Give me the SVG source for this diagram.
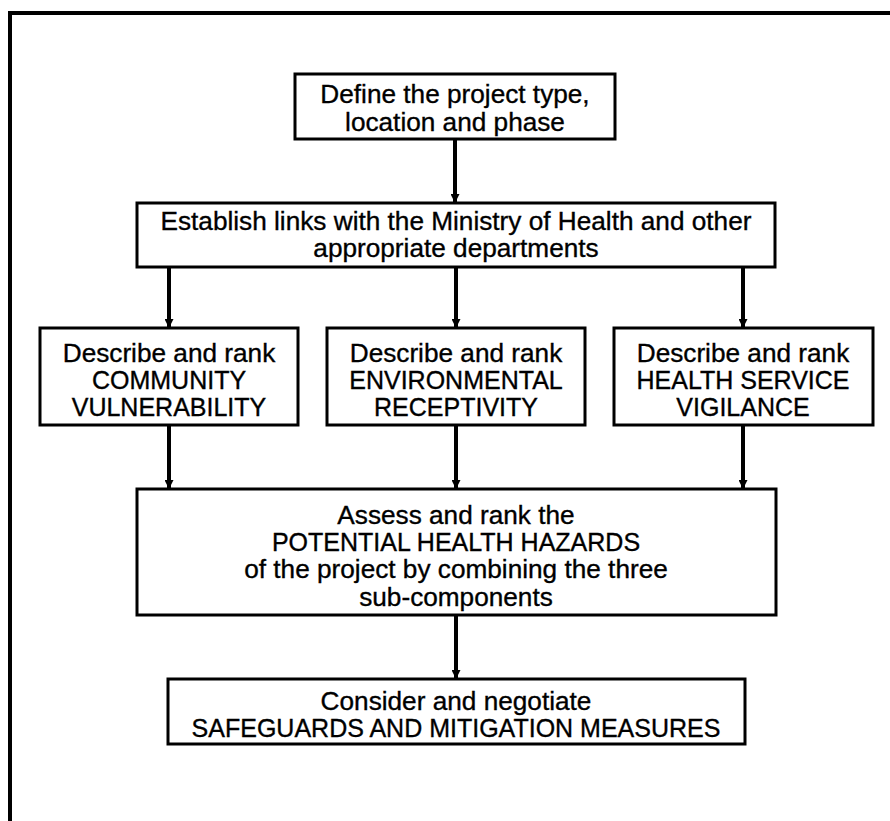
<svg xmlns="http://www.w3.org/2000/svg" width="890" height="821" viewBox="0 0 890 821">
  <style>
    .box { fill: #ffffff; stroke: #000000; stroke-width: 3; }
    .frame { fill: none; stroke: #000000; stroke-width: 4; }
    .link { fill: none; stroke: #000000; stroke-width: 4; }
    .label { font-family: "Liberation Sans", Arial, Helvetica, sans-serif; font-size: 25px; fill: #000000; stroke: #000000; stroke-width: 0.35; text-anchor: middle; }
    .lc { font-size: 26.2px; }
  </style>
  <defs>
    <marker id="arrow" viewBox="0 0 10 10" refX="10" refY="5" markerWidth="10" markerHeight="9" markerUnits="userSpaceOnUse" orient="auto">
      <path d="M0,0 L10,5 L0,10 Z" fill="#000000"/>
    </marker>
  </defs>

  <rect width="890" height="821" fill="#ffffff"/>

  <!-- page frame: top and left edges -->
  <path class="frame" d="M10,821 L10,13 L890,13"/>

  <!-- connectors -->
  <g id="connectors">
    <line class="link" x1="455" y1="139" x2="455" y2="203" marker-end="url(#arrow)"/>
    <line class="link" x1="169" y1="267" x2="169" y2="328" marker-end="url(#arrow)"/>
    <line class="link" x1="456" y1="267" x2="456" y2="328" marker-end="url(#arrow)"/>
    <line class="link" x1="743" y1="267" x2="743" y2="328" marker-end="url(#arrow)"/>
    <line class="link" x1="169" y1="425" x2="169" y2="489" marker-end="url(#arrow)"/>
    <line class="link" x1="456" y1="425" x2="456" y2="489" marker-end="url(#arrow)"/>
    <line class="link" x1="743" y1="425" x2="743" y2="489" marker-end="url(#arrow)"/>
    <line class="link" x1="456" y1="615" x2="456" y2="679" marker-end="url(#arrow)"/>
  </g>

  <g id="define">
    <rect class="box" x="295" y="74" width="320" height="65"/>
    <text class="label lc" x="455" y="103">Define the project type,</text>
    <text class="label lc" x="455" y="131">location and phase</text>
  </g>

  <g id="links">
    <rect class="box" x="137" y="203" width="638" height="64"/>
    <text class="label lc" x="456" y="230">Establish links with the Ministry of Health and other</text>
    <text class="label lc" x="456" y="257">appropriate departments</text>
  </g>

  <g id="community">
    <rect class="box" x="40" y="328" width="258" height="97"/>
    <text class="label lc" x="169" y="362">Describe and rank</text>
    <text class="label" x="169" y="389">COMMUNITY</text>
    <text class="label" x="169" y="416">VULNERABILITY</text>
  </g>

  <g id="environment">
    <rect class="box" x="327" y="328" width="258" height="97"/>
    <text class="label lc" x="456" y="362">Describe and rank</text>
    <text class="label" x="456" y="389">ENVIRONMENTAL</text>
    <text class="label" x="456" y="416">RECEPTIVITY</text>
  </g>

  <g id="health-service">
    <rect class="box" x="614" y="328" width="259" height="97"/>
    <text class="label lc" x="743" y="362">Describe and rank</text>
    <text class="label" x="743" y="389">HEALTH SERVICE</text>
    <text class="label" x="743" y="416">VIGILANCE</text>
  </g>

  <g id="hazards">
    <rect class="box" x="137" y="489" width="639" height="126"/>
    <text class="label lc" x="456" y="524">Assess and rank the</text>
    <text class="label" x="456" y="551">POTENTIAL HEALTH HAZARDS</text>
    <text class="label lc" x="456" y="578">of the project by combining the three</text>
    <text class="label lc" x="456" y="606">sub-components</text>
  </g>

  <g id="safeguards">
    <rect class="box" x="168" y="679" width="577" height="65"/>
    <text class="label lc" x="456" y="710">Consider and negotiate</text>
    <text class="label" x="456" y="737">SAFEGUARDS AND MITIGATION MEASURES</text>
  </g>
</svg>
